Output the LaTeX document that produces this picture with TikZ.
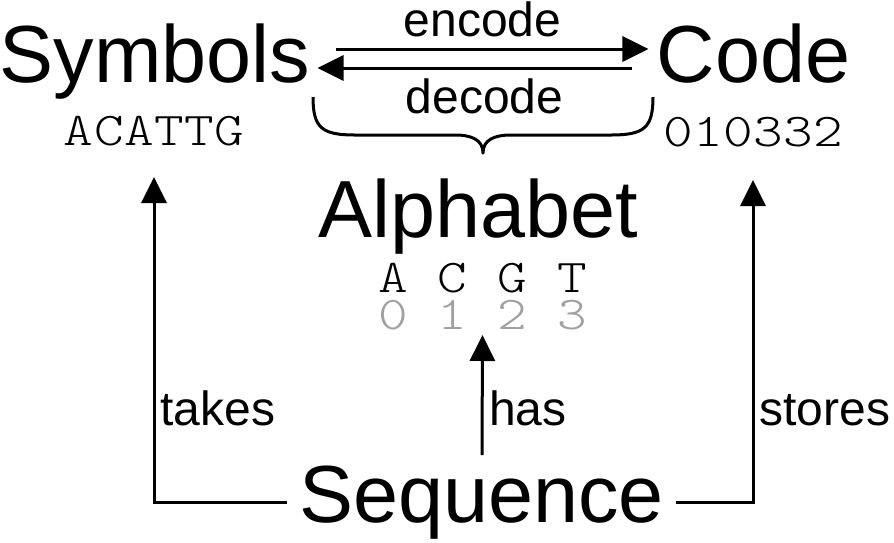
\documentclass[tikz,border=0pt]{standalone}
\usepackage{fontspec}
\setmainfont{Liberation Sans}
\newfontfamily\courfont{Latin Modern Mono Light}[FakeStretch=1.2,LetterSpace=1]
\usetikzlibrary{arrows.meta,calc}
\definecolor{digitgrey}{RGB}{160,160,160}
\begin{document}
\begin{tikzpicture}[x=1pt,y=-1pt,
  big/.style={inner sep=0pt,anchor=base,font=\fontsize{81}{81}\selectfont},
  lab/.style={inner sep=0pt,anchor=base,font=\fontsize{48}{48}\selectfont},
  mono/.style={inner sep=0pt,anchor=base,font=\fontsize{47}{47}\courfont},
  arr/.style={line width=3pt,-{Triangle[length=26pt,width=25pt]}},
  brc/.style={line width=3pt,line join=round}]
\useasboundingbox (0,0) rectangle (894,542);
\node[big] (sym) at (155,82) {Symbols};
\node[big] (code) at (753.5,82) {Code};
\node[big] (alpha) at (478,237) {Alphabet};
\node[big,inner xsep=12pt] (seq) at (481.5,522) {Sequence};
\node[mono] (acattg) at (154,145) {ACATTG};
\node[mono] (bits) at (753,146) {010332};
\node[mono,text depth=0pt] (letters) at (482.5,292) {A C G T};
\node[mono,text=digitgrey,text height=28pt] (digits) at (482.5,329) {0 1 2 3};
\node[lab,text height=34pt] (enc) at (482.5,36) {encode};
\node[lab] (dec) at (484.5,113) {decode};
\node[lab] (takes) at (218,425) {takes};
\node[lab] (has) at (528,425) {has};
\node[lab] (stores) at (825,425) {stores};
\draw[arr] ([shift={(25,-33)}]sym.base east) -- ([shift={(-8,-33)}]code.base west);
\draw[arr] ([shift={(-24,-14)}]code.base west) -- ([shift={(7,-14)}]sym.base east);
\draw[brc] (313,97) .. controls (313,128) and (322,135) .. (355,135) -- (455,135)
  .. controls (472,135) and (483,140) .. (483,153)
  .. controls (483,140) and (494,135) .. (511,135) -- (611,135)
  .. controls (644,135) and (653,128) .. (653,97);
\draw[arr] (seq.west) -| ($(acattg.base)+(0,32)$);
\draw[arr] (seq.east) -| ($(bits.base)+(0,34)$);
\draw[arr] ($(seq.base)+(0.5,-67)$) -- ($(digits.base)+(0,6)$);
\end{tikzpicture}
\end{document}
